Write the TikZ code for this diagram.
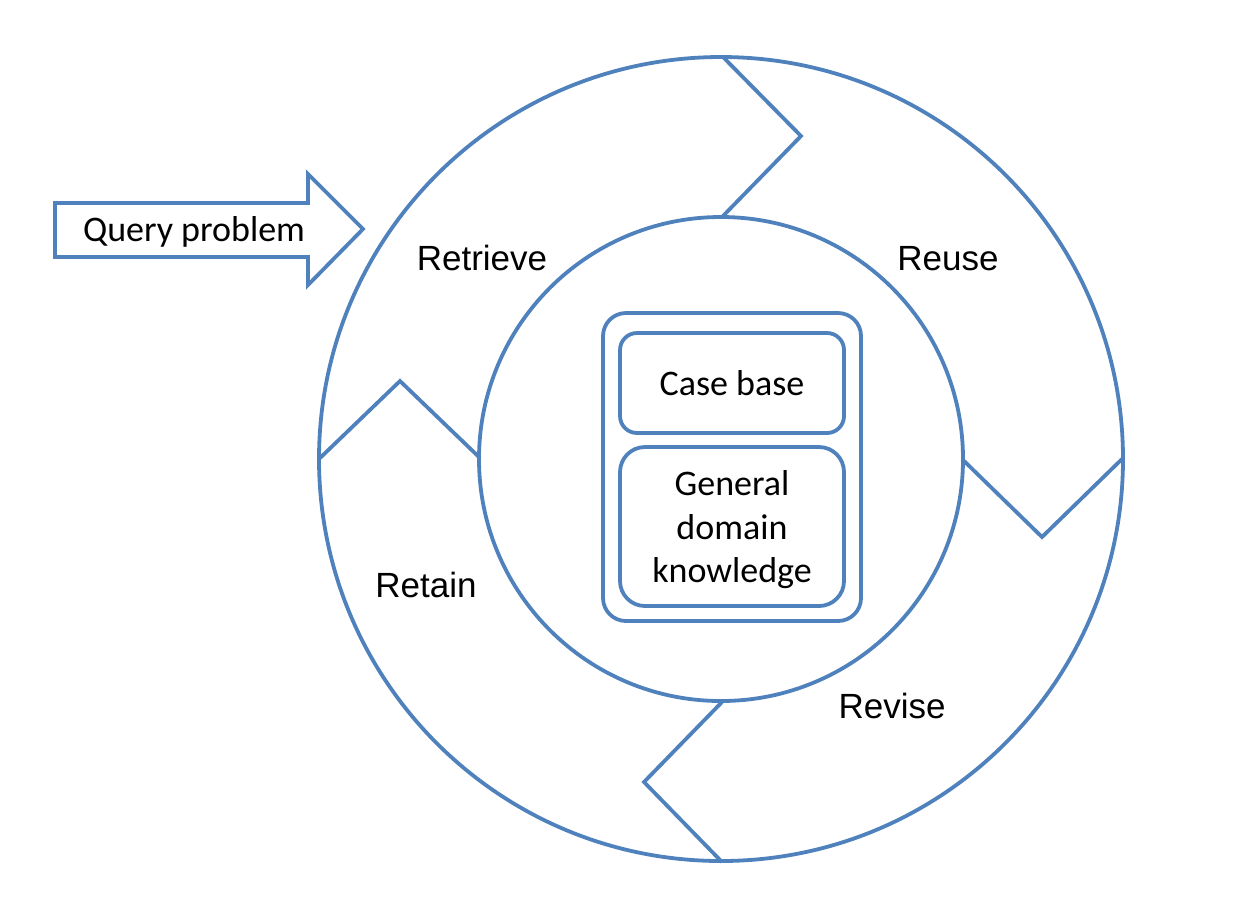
\documentclass[tikz,border=0pt]{standalone}
\usepackage{fontspec}
\setmainfont{Liberation Sans}
\newfontfamily\calibri{Carlito}
\definecolor{ringblue}{RGB}{79,129,189}
\begin{document}
\begin{tikzpicture}[x=0.5pt,y=-0.5pt]

      \tikzset{ring/.style={draw=ringblue, line width=1.9pt},
               stage/.style={anchor=base, inner sep=0pt, font=\fontsize{17.5}{21}\selectfont},
               store/.style={ring, align=center, inner sep=0pt, font=\calibri\fontsize{18}{21.7}\selectfont}}
      \useasboundingbox (0,0) rectangle (1240,896);
%% Rings
      	\coordinate (c) at (721,459);
      	\draw[ring] (c) circle[radius=201pt];
      	\draw[ring] (c) circle[radius=121pt];
%Cuts between the stages
		\draw[ring] (723,57) -- (801,136) -- (723,216);
		\draw[ring] (962,459) -- (1042,537) -- (1122,459);
		\draw[ring] (722,702) -- (644,782) -- (722,862);
		\draw[ring] (320,458) -- (400,381) -- (480,458);
%Query arrow
		\draw[ring] (55,203) -- (308,203) -- (308,174) -- (363,229) -- (308,285) -- (308,257) -- (55,257) -- cycle;
		\node[anchor=base, inner sep=0pt, font=\calibri\fontsize{18}{21.7}\selectfont] (query) at (194,241) {Query problem};
%% Stages
      	\node[stage] (retrieve) at (482,270) {Retrieve};
      	\node[stage] (reuse) at (948,270) {Reuse};
      	\node[stage] (revise) at (892,718) {Revise};
      	\node[stage] (retain) at (426,597) {Retain};
%% Knowledge
      	\node[store, rounded corners=11.5pt, minimum width=129pt, minimum height=154pt] (memory) at (732,467) {};
      	\node[store, rounded corners=8.5pt, minimum width=112pt, minimum height=50pt] (cases) at (732,383) {Case base};
      	\node[store, rounded corners=12.5pt, minimum width=112pt, minimum height=79.5pt, text depth=0pt] (general) at (732,526.5) {General\\domain\\knowledge};

	\end{tikzpicture}
\end{document}
